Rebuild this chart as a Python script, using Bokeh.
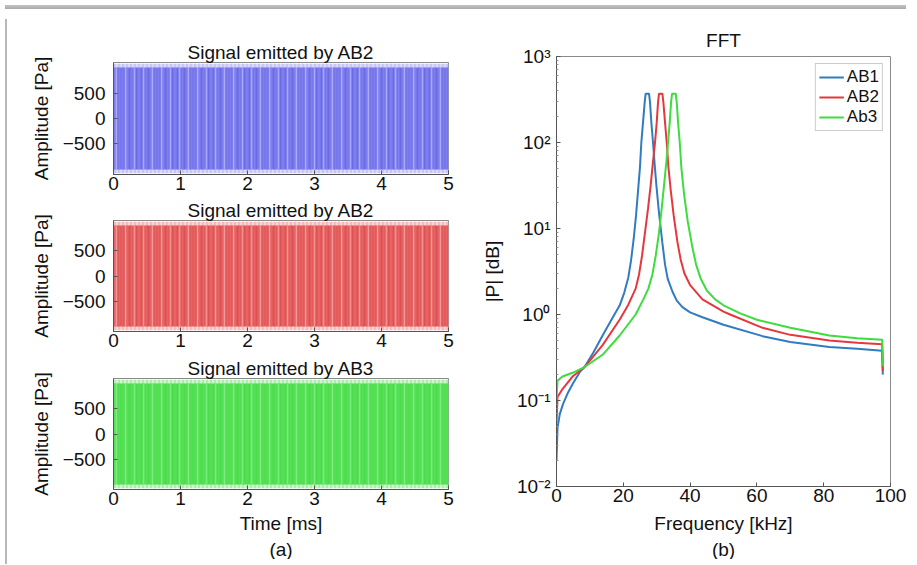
from bokeh.plotting import figure
from bokeh.layouts import row, column
from bokeh.models import FixedTicker, Title, Range1d, Div
from bokeh.embed import file_html
from bokeh.resources import INLINE

FONT = "Liberation Sans"

# ---------------- panel (a): time signals (envelopes) ----------------
time_ms = [0.0, 1.0, 2.0, 3.0, 4.0, 5.0]
signal_titles = ["Signal emitted by AB2", "Signal emitted by AB2", "Signal emitted by AB3"]
env1_pa = [1000, 1000, 1000, 1000, 1000, 1000]
env2_pa = [1000, 1000, 1000, 1000, 1000, 1000]
env3_pa = [1000, 1000, 1000, 1000, 1000, 1000]
peak1_pa = [1075, 1075, 1075, 1075, 1075, 1075]
peak2_pa = [1075, 1075, 1075, 1075, 1075, 1075]
peak3_pa = [1075, 1075, 1075, 1075, 1075, 1075]
time_ticks = [0, 1, 2, 3, 4, 5]
amp_ticks = [-500, 0, 500]

# ---------------- panel (b): FFT magnitude ----------------
ab1_freq = [0.0, 0.3, 1.0, 2.0, 3.5, 5.0, 7.0, 8.4, 11.0, 13.8, 17.0, 18.9, 20.3, 21.5, 22.3,
            23.1, 23.8, 24.4, 25.0, 25.4, 25.9, 26.4, 26.7, 27.7, 28.0, 28.4, 28.9, 29.4, 29.9,
            30.7, 31.7, 32.5, 33.3, 34.7, 36.0, 37.7, 40.0, 43.7, 50.0, 61.7, 70.0, 81.7, 90.0,
            97.5, 97.7]
ab1_mag = [0.020, 0.048, 0.070, 0.092, 0.125, 0.160, 0.215, 0.245, 0.36, 0.57, 0.95, 1.27, 1.8, 2.7,
           4.2, 7.5, 14.0, 27.0, 52.0, 100.0, 170.0, 293.0, 370.0, 370.0, 293.0, 170.0, 100.0,
           55.0, 32.0, 15.0, 6.8, 3.8, 2.6, 1.85, 1.45, 1.22, 1.06, 0.93, 0.76, 0.56, 0.48, 0.42,
           0.40, 0.38, 0.20]

ab2_freq = [0.0, 0.3, 1.8, 4.8, 8.4, 13.8, 18.9, 21.5, 23.7, 24.7, 25.6, 26.5, 27.4, 28.2, 28.9,
            29.5, 30.0, 30.4, 30.7, 31.7, 32.0, 32.5, 33.0, 33.5, 34.2, 35.1, 36.2, 37.2, 38.3,
            40.0, 43.7, 50.0, 52.0, 61.7, 70.0, 81.7, 90.0, 97.5, 97.7]
ab2_mag = [0.055, 0.110, 0.136, 0.190, 0.245, 0.44, 0.87, 1.3, 2.0, 2.9, 4.8, 9.0, 17.0, 32.0, 60.0,
           100.0, 170.0, 293.0, 370.0, 370.0, 293.0, 170.0, 100.0, 52.0, 28.0, 14.0, 7.0, 4.3, 3.0,
           2.2, 1.5, 1.08, 1.0, 0.70, 0.58, 0.50, 0.47, 0.45, 0.22]

ab3_freq = [0.0, 0.3, 1.8, 4.8, 8.4, 13.8, 18.9, 23.7, 26.0, 27.5, 28.7, 29.7, 30.7, 31.5, 32.2,
            32.9, 33.4, 33.9, 34.3, 34.6, 35.7, 36.0, 36.4, 36.9, 37.4, 38.2, 39.3, 40.7, 41.8,
            43.2, 45.0, 47.5, 50.0, 55.0, 60.0, 70.0, 81.7, 90.0, 97.5, 97.7]
ab3_mag = [0.100, 0.170, 0.190, 0.210, 0.245, 0.34, 0.57, 1.0, 1.5, 2.0, 2.9, 4.8, 9.0, 17.0, 32.0,
           60.0, 100.0, 170.0, 293.0, 370.0, 370.0, 293.0, 170.0, 100.0, 50.0, 25.0, 12.0, 6.0,
           3.8, 2.6, 1.9, 1.5, 1.28, 1.03, 0.87, 0.70, 0.57, 0.53, 0.51, 0.25]

freq_ticks = [0, 20, 40, 60, 80, 100]
mag_ticks = [0.01, 0.1, 1, 10, 100, 1000]
mag_tick_labels = ["10\u207b\u00b2", "10\u207b\u00b9", "10\u2070", "10\u00b9", "10\u00b2", "10\u00b3"]
series_names = ["AB1", "AB2", "Ab3"]
series_colors = ["#2f7cc0", "#e6383c", "#3edc3e"]

# band styles for the dense oscillations: fill, fringe, dark streak, light streak, mid streak
band_styles = [
    ("#7676ee", "#dadaf7", "#4a4ad0", "#b8b8f9", "#9a9af3"),
    ("#e65a5a", "#f7d4d4", "#c03c3c", "#f5a8a8", "#ee8080"),
    ("#4fe04f", "#cff4cf", "#44cc44", "#8eee8e", "#6ae66a"),
]


def style_axes(p):
    for ax in (p.xaxis[0], p.yaxis[0]):
        ax.major_label_text_font = FONT
        ax.major_label_text_font_size = "19px"
        ax.major_label_text_color = "#111111"
        ax.axis_label_text_font = FONT
        ax.axis_label_text_font_size = "19px"
        ax.axis_label_text_font_style = "normal"
        ax.axis_label_text_color = "#111111"
        ax.major_tick_in = 4
        ax.major_tick_out = 0
        ax.major_tick_line_color = "#555555"
        ax.axis_line_color = "#555555"
    p.grid.visible = False
    p.outline_line_color = "#8a8a8a"
    p.title.text_font = FONT
    p.title.text_font_size = "19px"
    p.title.text_font_style = "normal"
    p.title.text_color = "#111111"
    p.title.align = "center"


def signal_fig(i, env, peak, height, top, bottom, last):
    p = figure(width=450, height=height, x_range=Range1d(0, 5), y_range=Range1d(-1100, 1100),
               output_backend="svg", toolbar_location=None,
               min_border_left=101, min_border_right=14, min_border_top=top, min_border_bottom=bottom,
               title=signal_titles[i])
    fill, fringe, dark, light, mid = band_styles[i]
    neg_peak = [-v for v in peak]
    neg_env = [-v for v in env]
    p.varea(x=time_ms, y1=neg_peak, y2=peak, fill_color=fringe, fill_alpha=1.0,
            hatch_pattern="vertical_line", hatch_color=light, hatch_scale=4, hatch_weight=1.2)
    p.varea(x=time_ms, y1=neg_env, y2=env, fill_color=fill, fill_alpha=1.0,
            hatch_pattern="vertical_line", hatch_color=dark, hatch_scale=6, hatch_weight=1.0,
            hatch_alpha=0.5)
    p.varea(x=time_ms, y1=neg_env, y2=env, fill_alpha=0.0,
            hatch_pattern="vertical_line", hatch_color=light, hatch_scale=9, hatch_weight=1.6,
            hatch_alpha=0.8)
    p.varea(x=time_ms, y1=neg_env, y2=env, fill_alpha=0.0,
            hatch_pattern="vertical_line", hatch_color=mid, hatch_scale=4, hatch_weight=1.0,
            hatch_alpha=0.45)
    style_axes(p)
    p.title.standoff = 0
    p.xaxis.ticker = FixedTicker(ticks=time_ticks)
    p.yaxis.ticker = FixedTicker(ticks=amp_ticks)
    p.yaxis.major_label_overrides = {t: str(t).replace("-", "\u2212") for t in amp_ticks}
    p.xaxis.major_label_standoff = 2
    p.yaxis.major_label_standoff = 8
    p.xaxis.minor_tick_line_color = None
    p.yaxis.minor_tick_line_color = None
    p.yaxis.axis_label = "Amplitude [Pa]"
    p.yaxis.axis_label_standoff = 8
    if last:
        p.xaxis.axis_label = "Time [ms]"
        p.xaxis.axis_label_standoff = 5
        p.add_layout(Title(text="(a)", align="center", text_font=FONT, text_font_size="19px",
                           text_font_style="normal", text_color="#111111", standoff=0), "below")
    return p


a1 = signal_fig(0, env1_pa, peak1_pa, 183, 48, 23, False)
a2 = signal_fig(1, env2_pa, peak2_pa, 157, 23, 23, False)
a3 = signal_fig(2, env3_pa, peak3_pa, 205, 24, 70, True)

# ---------------- FFT figure ----------------
b = figure(width=449, height=545, x_range=Range1d(0, 100), y_range=Range1d(0.01, 1000),
           y_axis_type="log", output_backend="svg", toolbar_location=None,
           min_border_left=94, min_border_right=21, min_border_top=42, min_border_bottom=73,
           title="FFT")
for fr, mg, name, col in zip([ab1_freq, ab2_freq, ab3_freq], [ab1_mag, ab2_mag, ab3_mag],
                             series_names, series_colors):
    b.line(fr, mg, line_color=col, line_width=2, legend_label=name)
style_axes(b)
b.title.standoff = 11
b.xaxis.ticker = FixedTicker(ticks=freq_ticks)
minor = []
for d in mag_ticks[:-1]:
    for k in range(2, 10):
        minor.append(d * k)
b.yaxis.ticker = FixedTicker(ticks=mag_ticks, minor_ticks=minor)
b.yaxis.major_label_overrides = dict(zip(mag_ticks, mag_tick_labels))
b.yaxis.minor_tick_in = 2
b.yaxis.minor_tick_out = 0
b.yaxis.minor_tick_line_color = "#999999"
b.xaxis.minor_tick_line_color = None
b.xaxis.major_label_standoff = 2
b.yaxis.major_label_standoff = 6
b.xaxis.axis_label = "Frequency [kHz]"
b.xaxis.axis_label_standoff = 8
b.yaxis.axis_label = "|P| [dB]"
b.yaxis.axis_label_standoff = 11
b.add_layout(Title(text="(b)", align="center", text_font=FONT, text_font_size="19px",
                   text_font_style="normal", text_color="#111111", standoff=0), "below")

lg = b.legend[0]
lg.location = "top_right"
lg.margin = 7
lg.padding = 3
lg.spacing = 0
lg.label_text_font = FONT
lg.label_text_font_size = "17px"
lg.label_text_color = "#111111"
lg.label_standoff = 3
lg.glyph_width = 25
lg.glyph_height = 18
lg.label_height = 18
lg.border_line_color = "#9a9a9a"
lg.background_fill_alpha = 1.0

top_strip = Div(text="", width=901, height=4,
                styles={"background": "linear-gradient(#c4c4c4, #a8a8a8)"})
left_strip = Div(text="", width=2, height=545,
                 styles={"background": "#b8b8b8"})

layout = column(top_strip, row(left_strip, column(a1, a2, a3), b))

open("out.html", "w").write(file_html(layout, INLINE))
